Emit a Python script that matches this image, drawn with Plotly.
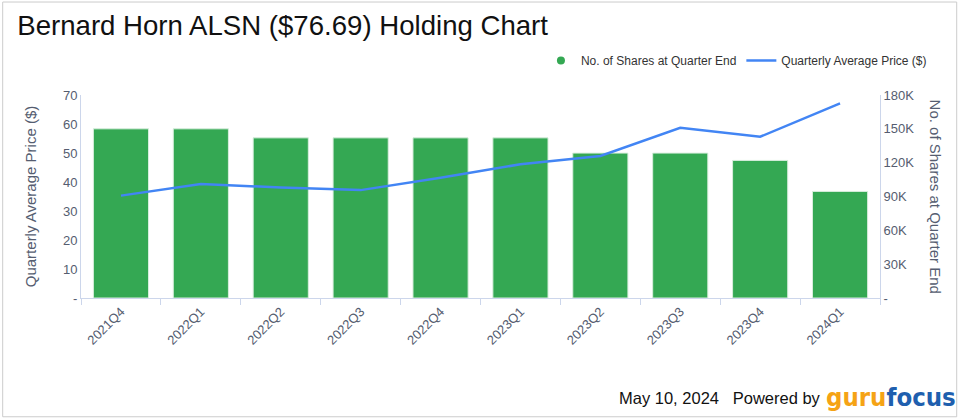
import plotly.graph_objects as go

quarters = ["2021Q4", "2022Q1", "2022Q2", "2022Q3", "2022Q4",
            "2023Q1", "2023Q2", "2023Q3", "2023Q4", "2024Q1"]
shares = [150000, 150000, 142000, 142000, 142000, 142000, 128500, 128500, 122000, 94500]
avg_price = [35.3, 39.3, 38.1, 37.2, 41.5, 46.1, 49.0, 58.7, 55.6, 67.1]

price_ticks = [0, 10, 20, 30, 40, 50, 60, 70]
price_labels = ["-", "10", "20", "30", "40", "50", "60", "70"]
share_ticks = [0, 30000, 60000, 90000, 120000, 150000, 180000]
share_labels = ["-", "30K", "60K", "90K", "120K", "150K", "180K"]

GREEN = "#34a853"
BLUE = "#4285f4"
AXIS = "#ccd6eb"
TICK = "#555d70"

fig = go.Figure()

fig.add_trace(go.Bar(
    x=quarters, y=shares, yaxis="y",
    marker=dict(color=GREEN, line=dict(color="#d8eedd", width=1)),
    showlegend=False, name="No. of Shares at Quarter End",
))
# legend entry with a round marker, like the original
fig.add_trace(go.Scatter(
    x=[None], y=[None], mode="markers", yaxis="y",
    marker=dict(color=GREEN, size=8, symbol="circle"),
    name="No. of Shares at Quarter End",
))
fig.add_trace(go.Scatter(
    x=quarters, y=avg_price, yaxis="y2", mode="lines",
    line=dict(color=BLUE, width=2.5),
    name="Quarterly Average Price ($)",
))

fig.update_layout(
    width=960, height=419,
    margin=dict(l=81, r=80, t=95, b=121),
    paper_bgcolor="white", plot_bgcolor="white",
    font=dict(family="Liberation Sans, Arial, sans-serif", color=TICK, size=12),
    title=dict(text="Bernard Horn ALSN ($76.69) Holding Chart",
               x=0.018, xanchor="left", y=0.94, yanchor="middle",
               font=dict(size=27.6, color="#111111")),
    bargap=0.31,
    showlegend=True,
    legend=dict(orientation="h", x=1.065, xanchor="right", y=1.17, yanchor="middle",
                font=dict(size=12, color="#333333"), itemwidth=30,
                traceorder="normal"),
    xaxis=dict(showline=True, linecolor=AXIS, linewidth=1,
               ticks="outside", tickson="boundaries", tickcolor=AXIS, ticklen=6,
               tickangle=-45, tickfont=dict(size=13, color=TICK),
               showgrid=False),
    yaxis=dict(side="right", range=[0, 180000], tickvals=share_ticks, ticktext=share_labels,
               showline=True, linecolor=AXIS, showgrid=False, zeroline=False,
               tickfont=dict(size=13, color=TICK)),
    yaxis2=dict(side="left", overlaying="y", range=[0, 70], tickvals=price_ticks,
                ticktext=price_labels, showline=True, linecolor=AXIS, showgrid=False,
                zeroline=False, tickfont=dict(size=13, color=TICK),
                title=dict(text="Quarterly Average Price ($)", standoff=22,
                           font=dict(size=15, color=TICK))),
)

# right axis title reads top to bottom in the original
fig.add_annotation(xref="paper", yref="paper", x=1.07, y=0.5, xanchor="center", yanchor="middle",
                   text="No. of Shares at Quarter End", textangle=90, showarrow=False,
                   font=dict(size=15, color=TICK))

fig.add_annotation(xref="paper", yref="paper", x=0.929, y=-0.495, xanchor="right", yanchor="middle",
                   text="May 10, 2024   Powered by", showarrow=False,
                   font=dict(size=16.5, color="#111111"))
fig.add_annotation(xref="paper", yref="paper", x=1.097, y=-0.49, xanchor="right", yanchor="middle",
                   text="<b><span style='color:#f5a315'>guru</span><span style='color:#1f5fae'>focus</span></b>",
                   showarrow=False,
                   font=dict(size=25.5, family="Liberation Sans Narrow, DejaVu Sans Condensed, sans-serif"))

# faint frame around the picture
fig.add_shape(type="rect", xref="paper", yref="paper",
              x0=-0.098, x1=1.096, y0=-0.585, y1=1.458,
              line=dict(color="#cccccc", width=1))

fig.write_html("out.html", config={"displayModeBar": False},
               post_script="document.body.style.margin='0';")
